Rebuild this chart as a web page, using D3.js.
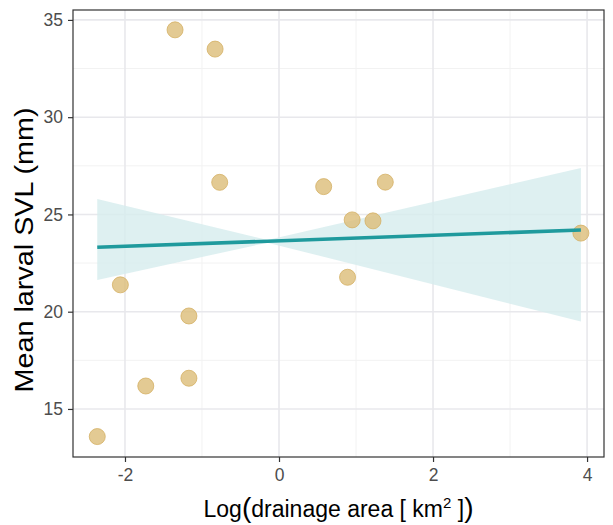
<!DOCTYPE html>
<html>
<head>
<meta charset="utf-8">
<script src="https://cdn.jsdelivr.net/npm/d3@7"></script>
<style>
  body { margin: 0; background: #fff; }
  text { font-family: "Liberation Sans", Arial, sans-serif; }
</style>
</head>
<body>
<svg id="chart"></svg>
<script>
// points
const drainageLog = [-1.35, -0.83, -0.77, 0.58, 1.38, 0.95, 1.22, 0.89, 3.92, -2.06, -1.17, -1.73, -1.17, -2.36]
const larvalSVL = [34.49, 33.5, 26.65, 26.43, 26.66, 24.72, 24.67, 21.77, 24.04, 21.38, 19.78, 16.18, 16.58, 13.58]

// fitted line + confidence band (as drawn)
const fitX = [-2.36, 3.92]
const fitY = [23.31, 24.2]
const bandX = [-2.36, -0.15, 3.92]
const bandUpper = [25.8, 23.69, 27.39]
const bandLower = [21.63, 23.55, 19.49]

const xTicks = [-2, 0, 2, 4]
const xMinor = [-1, 1, 3]
const yTicks = [15, 20, 25, 30, 35]
const yMinor = [17.5, 22.5, 27.5, 32.5]

var W = 613, H = 525
var margin = { top: 10, right: 9, bottom: 68, left: 73 }
var width = W - margin.left - margin.right
var height = H - margin.top - margin.bottom

var svg = d3.select('#chart')
    .attr('width', W)
    .attr('height', H)

var g = svg.append('g')
    .attr('transform', 'translate(' + margin.left + ',' + margin.top + ')')

var x = d3.scaleLinear()
    .domain([-2.675, 4.22])
    .range([0, width])

var y = d3.scaleLinear()
    .domain([12.53, 35.51])
    .range([height, 0])

// grid
g.selectAll('.xminor').data(xMinor).enter().append('line')
    .attr('x1', d => x(d)).attr('x2', d => x(d))
    .attr('y1', 0).attr('y2', height)
    .style('stroke', '#f2f2f2').style('stroke-width', 1)
g.selectAll('.yminor').data(yMinor).enter().append('line')
    .attr('y1', d => y(d)).attr('y2', d => y(d))
    .attr('x1', 0).attr('x2', width)
    .style('stroke', '#f2f2f2').style('stroke-width', 1)
g.selectAll('.xmajor').data(xTicks).enter().append('line')
    .attr('x1', d => x(d)).attr('x2', d => x(d))
    .attr('y1', 0).attr('y2', height)
    .style('stroke', '#e8e8ec').style('stroke-width', 1.6)
g.selectAll('.ymajor').data(yTicks).enter().append('line')
    .attr('y1', d => y(d)).attr('y2', d => y(d))
    .attr('x1', 0).attr('x2', width)
    .style('stroke', '#e8e8ec').style('stroke-width', 1.6)

// confidence band
var bandData = bandX.map((d, i) => ({ x: d, lo: bandLower[i], hi: bandUpper[i] }))
g.append('path')
    .datum(bandData)
    .attr('d', d3.area().x(d => x(d.x)).y0(d => y(d.lo)).y1(d => y(d.hi)))
    .style('fill', '#d6ecee')
    .style('opacity', 0.8)

// points
g.selectAll('.pt')
    .data(drainageLog)
    .enter()
    .append('circle')
    .attr('cx', d => x(d))
    .attr('cy', (d, i) => y(larvalSVL[i]))
    .attr('r', 8)
    .style('fill', '#dcbd78')
    .style('fill-opacity', 0.8)
    .style('stroke', '#d4b064')
    .style('stroke-opacity', 0.8)
    .style('stroke-width', 1)

// fit line
g.append('path')
    .datum(fitX.map((d, i) => [d, fitY[i]]))
    .attr('d', d3.line().x(d => x(d[0])).y(d => y(d[1])))
    .style('fill', 'none')
    .style('stroke', '#1f9a9d')
    .style('stroke-width', 3.6)

// axes
var xAxis = g.append('g')
    .attr('transform', 'translate(0,' + height + ')')
    .call(d3.axisBottom(x).tickValues(xTicks).tickSize(5).tickPadding(4).tickFormat(d => d < 0 ? '-' + Math.abs(d) : d))
var yAxis = g.append('g')
    .call(d3.axisLeft(y).tickValues(yTicks).tickSize(5).tickPadding(5))

;[xAxis, yAxis].forEach(a => {
    a.select('.domain').remove()
    a.selectAll('line').style('stroke', '#333').style('stroke-width', 1.2)
    a.selectAll('text').style('fill', '#4d4d4d').style('font-size', '17.5px')
})
xAxis.selectAll('text').attr('dy', '0.85em')

// panel border
g.append('rect')
    .attr('width', width).attr('height', height)
    .style('fill', 'none')
    .style('stroke', '#333')
    .style('stroke-width', 1.2)

// titles
svg.append('text')
    .attr('transform', 'translate(33,250) rotate(-90)')
    .attr('text-anchor', 'middle')
    .attr('textLength', 285)
    .attr('lengthAdjust', 'spacingAndGlyphs')
    .style('font-size', '25px')
    .style('fill', '#000')
    .text('Mean larval SVL (mm)')

var xt = svg.append('text')
    .attr('x', margin.left + width / 2)
    .attr('y', 517)
    .attr('text-anchor', 'middle')
    .style('font-size', '23px')
    .style('fill', '#000')
xt.append('tspan').text('Log')
xt.append('tspan').style('font-size', '28px').text('(')
xt.append('tspan').text('drainage area [ km')
xt.append('tspan').attr('dy', -9).style('font-size', '15px').text('2')
xt.append('tspan').attr('dy', 9).text(' ]')
xt.append('tspan').style('font-size', '28px').text(')')
</script>
</body>
</html>
